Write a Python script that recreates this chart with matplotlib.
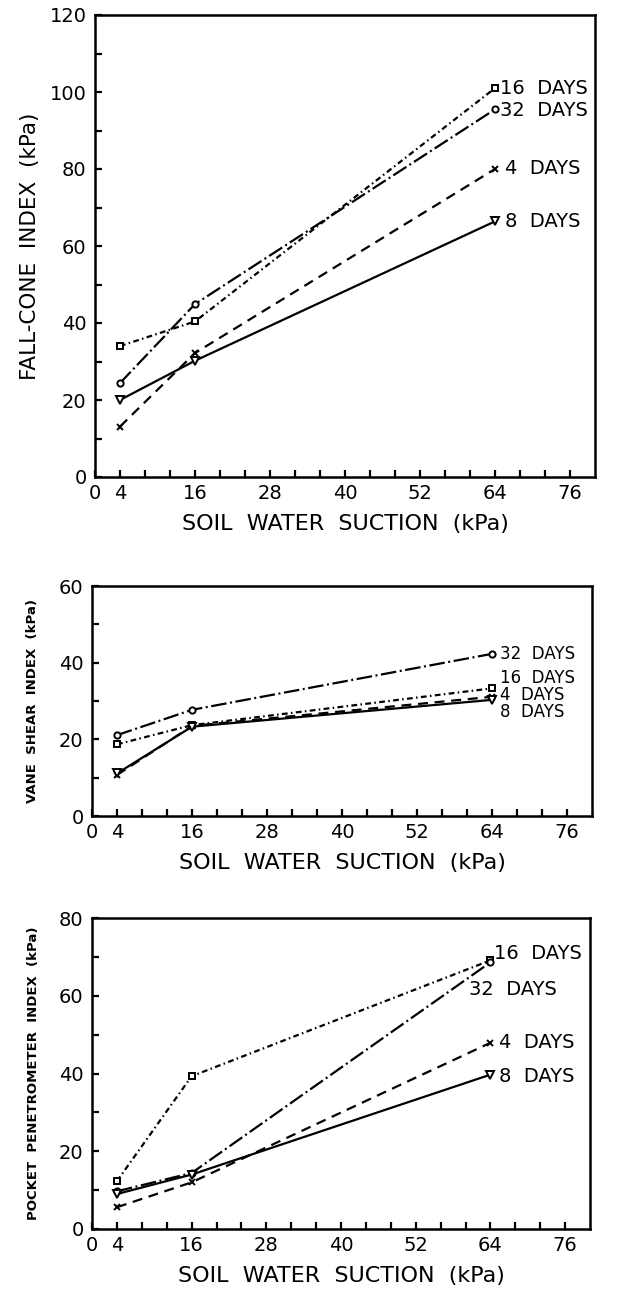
import matplotlib
matplotlib.use("Agg")
import matplotlib.pyplot as plt
import numpy as np

# ---------------- data ----------------
suction = [4, 16, 64]
series_names = ["16  DAYS", "32  DAYS", "4  DAYS", "8  DAYS"]

fall_16 = [34.0, 40.4, 101.0]
fall_32 = [24.4, 44.9, 95.5]
fall_4 = [13.1, 32.2, 80.0]
fall_8 = [20.0, 30.2, 66.4]

vane_16 = [18.7, 23.7, 33.3]
vane_32 = [21.1, 27.7, 42.3]
vane_4 = [10.7, 23.5, 31.1]
vane_8 = [11.1, 23.3, 30.3]

pocket_16 = [12.3, 39.3, 69.1]
pocket_32 = [9.7, 14.4, 68.6]
pocket_4 = [5.6, 12.0, 47.9]
pocket_8 = [9.0, 14.0, 39.7]

x_ticks = list(range(0, 80, 4))
x_labels_shown = [0, 4, 16, 28, 40, 52, 64, 76]

# ---------------- styles ----------------
styles = {
    "16  DAYS": dict(ls=(0, (2.6, 1.5, 0.7, 1.5)), marker="s", ms=4.5, mfc="white"),
    "32  DAYS": dict(ls=(0, (7, 1.6, 0.9, 1.6)), marker="o", ms=4.5, mfc="white"),
    "4  DAYS": dict(ls=(0, (4.5, 3.0)), marker="x", ms=5, mfc="none"),
    "8  DAYS": dict(ls="-", marker="v", ms=5.5, mfc="white"),
}

fig = plt.figure(figsize=(6.43, 12.89), dpi=100)
W, H = 643.0, 1289.0


def make_axes(left_px, top_px, right_px, bottom_px):
    return fig.add_axes([left_px / W, 1 - bottom_px / H,
                         (right_px - left_px) / W, (bottom_px - top_px) / H])


def style_axes(ax, ymax, ystep_label, ylabel, ylabel_size, ylabel_weight, ylabel_x):
    ax.set_xlim(0, 80)
    ax.set_ylim(0, ymax)
    ax.set_xticks(x_ticks)
    ax.set_xticklabels([str(v) if v in x_labels_shown else "" for v in x_ticks])
    yt = list(range(0, ymax + 1, 10))
    ax.set_yticks(yt)
    ax.set_yticklabels([str(v) if v % ystep_label == 0 else "" for v in yt])
    ax.tick_params(axis="both", direction="in", length=5, width=1.6,
                   labelsize=14, top=False, right=False)
    ax.tick_params(axis="x", pad=5)
    ax.tick_params(axis="y", pad=6)
    for sp in ax.spines.values():
        sp.set_linewidth(1.8)
    ax.set_xlabel("SOIL  WATER  SUCTION  (kPa)", fontsize=16, labelpad=8)
    ax.set_ylabel(ylabel, fontsize=ylabel_size, fontweight=ylabel_weight)
    ax.yaxis.set_label_coords(ylabel_x, 0.5)


def plot_series(ax, data, label_pos, label_size):
    for name, vals in data.items():
        st = styles[name]
        ax.plot(suction, vals, color="black", lw=1.6, linestyle=st["ls"],
                marker=st["marker"], ms=st["ms"], mfc=st["mfc"], mec="black",
                mew=1.4, clip_on=False)
    for name, (lx, ly) in label_pos.items():
        ax.text(lx, ly, name, fontsize=label_size, ha="left", va="center")


# ---- top panel ----
ax1 = make_axes(95, 15, 595, 477)
plot_series(ax1, {"16  DAYS": fall_16, "32  DAYS": fall_32,
                  "4  DAYS": fall_4, "8  DAYS": fall_8},
            {"16  DAYS": (64.8, 101.0), "32  DAYS": (64.8, 95.3),
             "4  DAYS": (65.6, 80.0), "8  DAYS": (65.6, 66.4)}, 14)
style_axes(ax1, 120, 20, "FALL-CONE  INDEX  (kPa)", 15.5, "normal", -0.11)

# ---- middle panel ----
ax2 = make_axes(92, 586, 592, 816)
plot_series(ax2, {"16  DAYS": vane_16, "32  DAYS": vane_32,
                  "4  DAYS": vane_4, "8  DAYS": vane_8},
            {"32  DAYS": (65.2, 42.3), "16  DAYS": (65.2, 36.1),
             "4  DAYS": (65.2, 31.6), "8  DAYS": (65.2, 27.2)}, 12)
style_axes(ax2, 60, 20, "VANE  SHEAR  INDEX  (kPa)", 9.5, "bold", -0.105)

# ---- bottom panel ----
ax3 = make_axes(92, 918, 590, 1229)
plot_series(ax3, {"16  DAYS": pocket_16, "32  DAYS": pocket_32,
                  "4  DAYS": pocket_4, "8  DAYS": pocket_8},
            {"16  DAYS": (64.6, 70.8), "32  DAYS": (60.6, 61.6),
             "4  DAYS": (65.4, 47.9), "8  DAYS": (65.4, 39.1)}, 14)
style_axes(ax3, 80, 20, "POCKET  PENETROMETER  INDEX  (kPa)", 9.5, "bold", -0.105)

fig.savefig("out.png", dpi=100)
